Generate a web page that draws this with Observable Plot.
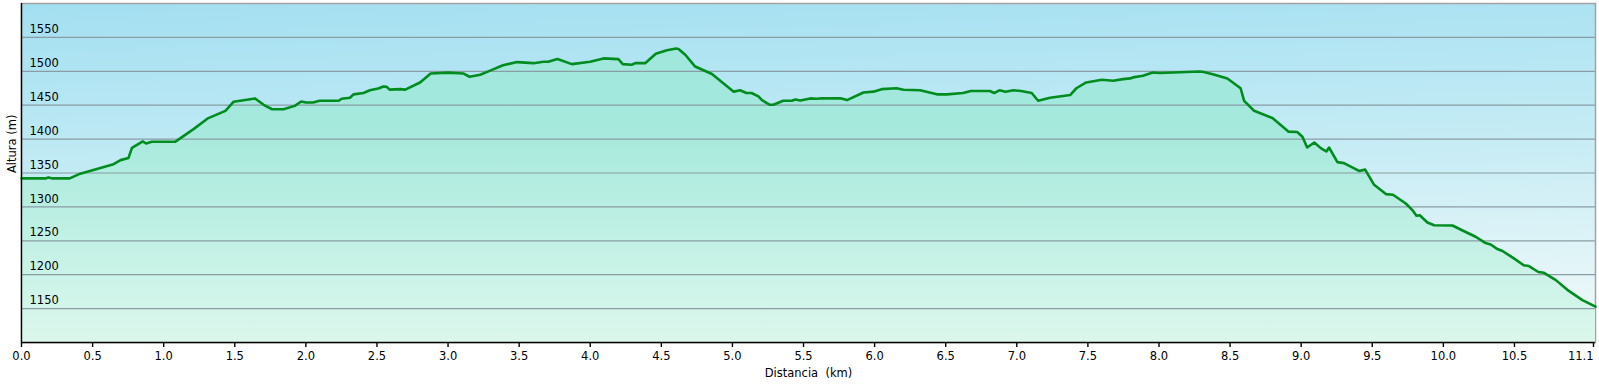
<!DOCTYPE html>
<html>
<head>
<meta charset="utf-8">
<script src="https://cdn.jsdelivr.net/npm/d3@7"></script>
<script src="https://cdn.jsdelivr.net/npm/@observablehq/plot@0.6"></script>
<style>
  html, body { margin: 0; padding: 0; background: #ffffff; }
  svg text { white-space: pre; }
</style>
</head>
<body>
<div id="chart"></div>
<script>
const distKm = [0.00,0.169,0.189,0.219,0.339,0.413,0.647,0.697,0.752,0.777,0.853,0.876,0.916,1.080,1.210,1.314,1.434,1.491,1.643,1.703,1.763,1.842,1.922,1.967,2.002,2.051,2.096,2.231,2.251,2.310,2.335,2.405,2.450,2.509,2.545,2.569,2.589,2.663,2.699,2.803,2.878,3.003,3.107,3.151,3.226,3.296,3.386,3.485,3.601,3.671,3.704,3.769,3.871,3.999,4.093,4.198,4.229,4.292,4.316,4.386,4.461,4.539,4.604,4.621,4.670,4.738,4.856,5.009,5.054,5.098,5.134,5.183,5.208,5.263,5.288,5.357,5.417,5.442,5.477,5.547,5.593,5.616,5.766,5.806,5.921,5.991,6.050,6.154,6.204,6.320,6.438,6.508,6.622,6.677,6.811,6.841,6.878,6.921,6.976,7.030,7.105,7.150,7.234,7.375,7.419,7.488,7.598,7.678,7.747,7.797,7.817,7.887,7.956,8.006,8.101,8.285,8.315,8.385,8.481,8.574,8.599,8.669,8.798,8.912,8.972,9.009,9.042,9.092,9.138,9.177,9.196,9.255,9.301,9.407,9.450,9.513,9.596,9.646,9.736,9.782,9.811,9.834,9.888,9.935,10.064,10.157,10.227,10.297,10.333,10.380,10.416,10.496,10.565,10.602,10.668,10.708,10.791,10.872,10.978,11.07];
const elevM = [1342,1342,1343.5,1342,1342,1349,1363,1369,1372,1387,1396.5,1393.5,1396,1396,1414.7,1431,1441.7,1455,1460,1450.6,1444,1444,1449,1455.5,1454,1454,1456.5,1456.5,1459.5,1461,1466,1468,1472,1474.6,1477.6,1477,1473,1473.7,1473,1483.5,1496.8,1498,1496.8,1492,1495,1501,1509,1513.6,1512,1514,1514,1518,1510.6,1514,1519,1518,1510.6,1509.6,1512,1512,1526,1531,1533.6,1533,1524,1507,1496,1470,1472,1468,1468,1463,1457.5,1450.6,1450.6,1456.5,1456.5,1458.4,1457,1460,1459.5,1460,1460,1457.5,1468.7,1470,1473.7,1475,1472.7,1472,1466,1466,1468,1471,1471,1468,1472,1469.7,1472,1471,1468,1456.5,1461,1465,1475,1483.5,1487.5,1486,1488.5,1489.5,1491,1493.5,1498.2,1497.5,1498.2,1499.7,1499,1495.3,1489.4,1475,1456.5,1441.7,1431,1411,1410.5,1403.4,1387.6,1395,1386.7,1381.7,1387.6,1366,1364.6,1353,1355,1332.6,1318.9,1318,1305,1295.3,1287,1287.7,1277,1273,1272.6,1263,1256,1246.6,1244.5,1237.8,1235,1224,1214,1212.7,1204,1202.8,1192,1177.7,1162.5,1153];

const xDomain = [0, 11.07];
const yDomain = [1100, 1600];
const xTicks = [0,0.5,1,1.5,2,2.5,3,3.5,4,4.5,5,5.5,6,6.5,7,7.5,8,8.5,9,9.5,10,10.5];
const xEndTick = [11.07];
const yTicks = [1150,1200,1250,1300,1350,1400,1450,1500,1550];
const xLabel = "Distancia  (km)";
const yLabel = "Altura (m)";

const profile = distKm.map((d, i) => ({km: d, elev: elevM[i]}));

const W = 1599, H = 387;
const mTop = 3, mBottom = 45, mLeft = 21, mRight = 4;

const chart = Plot.plot({
  width: W,
  height: H,
  marginTop: mTop,
  marginBottom: mBottom,
  marginLeft: mLeft,
  marginRight: mRight,
  style: {fontFamily: "'DejaVu Sans', Verdana, sans-serif", fontSize: "11px", color: "#000", background: "#fff"},
  x: {domain: xDomain},
  y: {domain: yDomain},
  marks: [
    Plot.frame({fill: "url(#bgGrad)", stroke: "#a2a2a2", strokeWidth: 1.5}),
    Plot.areaY(profile, {x: "km", y1: yDomain[0], y2: "elev", fill: "url(#areaGrad)"}),
    Plot.ruleY(yTicks, {stroke: "#8a9ca4", strokeWidth: 1.2}),
    Plot.lineY(profile, {x: "km", y: "elev", stroke: "#008c1e", strokeWidth: 2.6, strokeLinejoin: "round"}),
    Plot.text(yTicks, {x: xDomain[0], y: d => d, text: d => String(d), textAnchor: "start", dx: 8, dy: -8, fill: "#000", fontSize: 11.5}),
    Plot.ruleY([yDomain[0]], {stroke: "#000", strokeWidth: 1.6}),
    Plot.ruleX([xDomain[0]], {stroke: "#000", strokeWidth: 1.4}),
    Plot.axisX(xTicks, {tickFormat: d3.format(".1f"), tickSize: 5, tickPadding: 4, stroke: "#000", strokeWidth: 1.4, fontSize: 11.5, label: null}),
    Plot.axisX(xEndTick, {tickFormat: d => "11.1", tickSize: 5, tickPadding: 4, stroke: "#000", strokeWidth: 1.4, fontSize: 11.5, textAnchor: "end", dx: -2, label: null}),
    Plot.axisY([], {label: null, tickSize: 0}),
    Plot.text([xLabel], {frameAnchor: "bottom", dy: 34, fontSize: 11.5, fill: "#000"}),
    Plot.text([yLabel], {frameAnchor: "left", dx: -9, rotate: -90, fontSize: 11.5, fill: "#000"})
  ]
});

const svg = d3.select(chart);
const defs = svg.insert("defs", ":first-child");
const bg = defs.append("linearGradient").attr("id", "bgGrad").attr("x1", 0).attr("y1", 0).attr("x2", 0.15).attr("y2", 1);
bg.append("stop").attr("offset", "0%").attr("stop-color", "#a3dff1");
bg.append("stop").attr("offset", "45%").attr("stop-color", "#c0eaf4");
bg.append("stop").attr("offset", "100%").attr("stop-color", "#eaf7f8");
const ag = defs.append("linearGradient").attr("id", "areaGrad").attr("gradientUnits", "userSpaceOnUse")
  .attr("x1", 0).attr("y1", mTop).attr("x2", 0).attr("y2", H - mBottom);
ag.append("stop").attr("offset", "0%").attr("stop-color", "#9de5dc");
ag.append("stop").attr("offset", "35%").attr("stop-color", "#a4e9dc");
ag.append("stop").attr("offset", "100%").attr("stop-color", "#dcf7ec");

document.getElementById("chart").appendChild(chart);
</script>
</body>
</html>
